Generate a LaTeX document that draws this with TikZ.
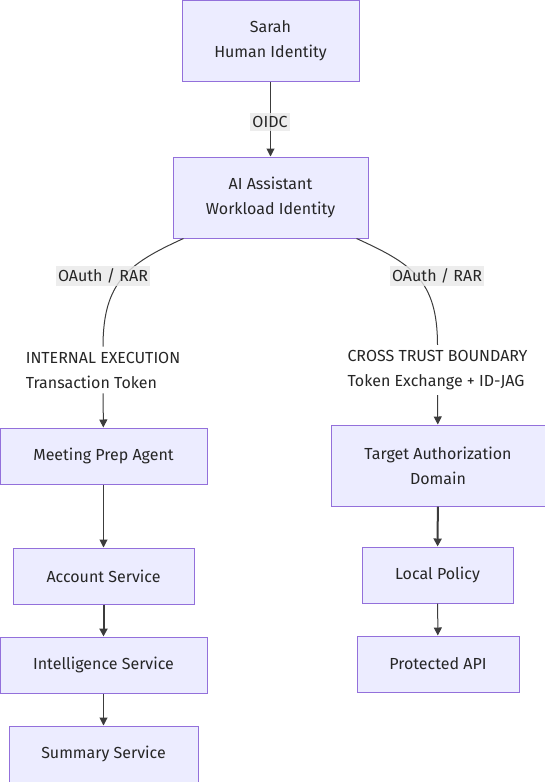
\documentclass[tikz,border=0pt]{standalone}
\usepackage{fontspec}
\setmainfont{Fira Sans}
\usepackage{tikz}
\usetikzlibrary{arrows.meta}
\definecolor{boxfill}{HTML}{ECECFF}
\definecolor{boxline}{HTML}{9370DB}
\definecolor{lblfill}{HTML}{E8E8E8}
\definecolor{ink}{HTML}{262626}

\begin{document}
\begin{tikzpicture}[x=1pt, y=-1pt,
            every node/.style={font=\fontsize{16}{25}\selectfont, text=ink},
            box/.style={draw=boxline, fill=boxfill, line width=1pt, align=center,
                inner sep=0pt},
            lbl/.style={fill=lblfill, fill opacity=.8, text opacity=1,
                inner xsep=2pt, inner ysep=3pt},
            note/.style={align=left, inner xsep=0pt, inner ysep=5pt},
            plain/.style={draw=ink!90, line width=1pt},
            link/.style={plain, -{Triangle[length=8pt,width=8pt]}},
            bold link/.style={link, line width=2pt}]
            \useasboundingbox (0,0) rectangle (545,782);

            % top
            \node[box, minimum width=177pt, minimum height=81pt] (sarah) at (270.5,40.5)
                {Sarah\\Human Identity};
            \node[box, minimum width=195pt, minimum height=81pt] (ai) at (270.5,197.5)
                {AI Assistant\\Workload Identity};

            % left branch
            \node[note] (internal) at (103,370) {INTERNAL EXECUTION\\Transaction Token};
            \node[box, minimum width=207pt, minimum height=56pt] (meeting) at (103.5,456)
                {Meeting Prep Agent};
            \node[box, minimum width=181pt, minimum height=56pt] (account) at (103.5,576)
                {Account Service};
            \node[box, minimum width=207pt, minimum height=56pt] (intel) at (103.5,665)
                {Intelligence Service};
            \node[box, minimum width=189pt, minimum height=56pt] (summary) at (103.5,754)
                {Summary Service};

            % right branch
            \node[note] (cross) at (437.5,370) {CROSS TRUST BOUNDARY\\Token Exchange + ID-JAG};
            \node[box, minimum width=214pt, minimum height=81pt] (target) at (438,465.5)
                {Target Authorization\\Domain};
            \node[box, minimum width=151pt, minimum height=56pt] (policy) at (437.5,575)
                {Local Policy};
            \node[box, minimum width=162pt, minimum height=56pt] (api) at (438,664)
                {Protected API};

            \draw[link] (sarah) -- (ai);
            \draw[plain] ([xshift=11pt]ai.south west) .. controls +(-55,25) and +(0,-65) .. (internal.north);
            \draw[plain] ([xshift=-12pt]ai.south east) .. controls +(55,25) and +(0,-65) .. (cross.north);
            \draw[link] (internal) -- (meeting);
            \draw[link] (cross) -- (target);
            \draw[link] (meeting) -- (account);
            \draw[bold link] (account) -- (intel);
            \draw[link] (intel) -- (summary);
            \draw[bold link] (target) -- (policy);
            \draw[link] (policy) -- (api);

            % edge labels
            \node[lbl] (oidc) at (270,122) {OIDC};
            \node[lbl] (oauthl) at (103,276) {OAuth / RAR};
            \node[lbl] (oauthr) at (437,276) {OAuth / RAR};
        \end{tikzpicture}
\end{document}
